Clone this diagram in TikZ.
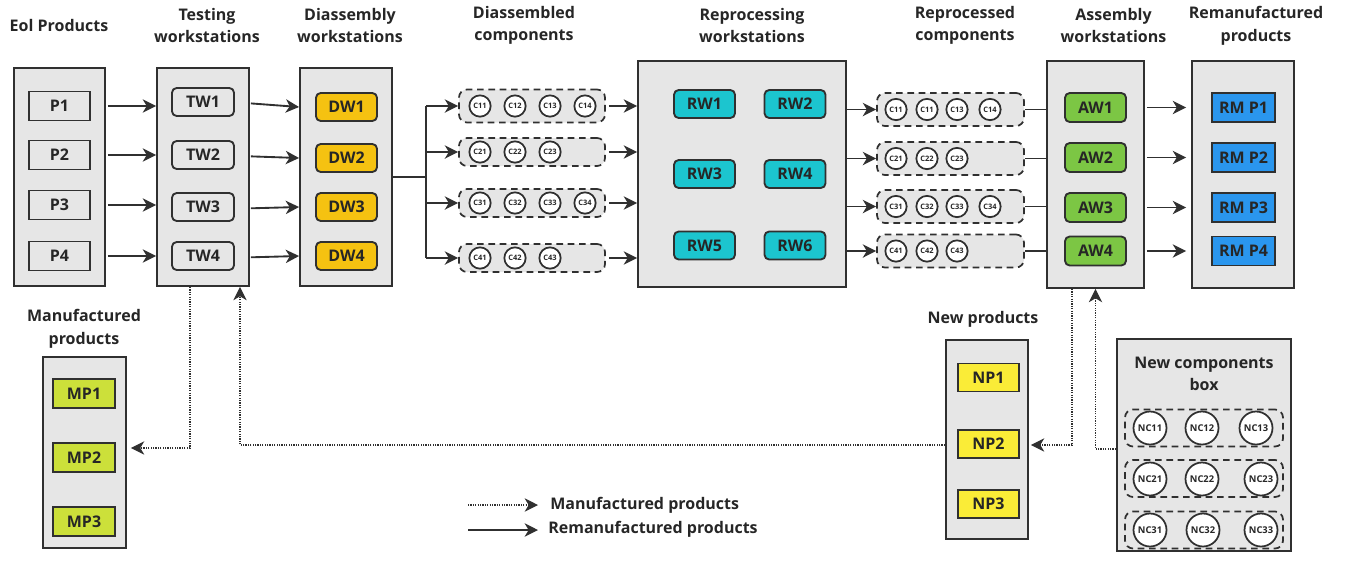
\documentclass[tikz,border=0pt]{standalone}
\usepackage{fontspec}
\setmainfont{Open Sans}
\usetikzlibrary{arrows.meta}

\definecolor{edge}{HTML}{303030}
\definecolor{ink}{HTML}{262626}
\definecolor{panelgray}{HTML}{E6E6E6}
\definecolor{dwyellow}{HTML}{F5C211}
\definecolor{rwcyan}{HTML}{1CC5CF}
\definecolor{awgreen}{HTML}{7CC644}
\definecolor{rmblue}{HTML}{2A96EE}
\definecolor{mplime}{HTML}{CCE03A}
\definecolor{npyellow}{HTML}{FAEC37}

\newcommand\headfont{\fontsize{12}{17}\selectfont\bfseries}
\newcommand\compfont{\fontsize{5.6}{7}\selectfont\bfseries}
\newcommand\ncfont{\fontsize{7}{8}\selectfont\bfseries}

\tikzset{
  px/.style 2 args={minimum width=#1*0.75pt, minimum height=#2*0.75pt},
  heading/.style={font=\headfont, text=ink, align=center, inner sep=0pt},
  panelbox/.style={draw=edge, fill=panelgray, line width=1.4pt, inner sep=0pt},
  itembox/.style={draw=edge, fill=panelgray, line width=1.4pt, inner sep=0pt,
    font=\headfont, text=ink, px={61}{29}},
  wsbox/.style={itembox, rounded corners=3.5pt, px={61}{28}},
  grpbox/.style={draw=edge, fill=panelgray, line width=1.3pt,
    dash pattern=on 5pt off 3.5pt, rounded corners=6pt, inner sep=0pt},
  comp/.style={circle, draw=edge, fill=white, line width=1.3pt, inner sep=0pt,
    minimum size=16pt, font=\compfont, text=ink},
  ncomp/.style={comp, minimum size=24.75pt, font=\ncfont},
  plain/.style={draw=edge, line width=1.4pt},
  arr/.style={plain, -{Stealth[length=10pt,width=10pt,inset=3pt]}},
  dotarr/.style={draw=edge, line width=0.9pt, dash pattern=on 0.9pt off 0.9pt,
    -{Stealth[length=10pt,width=10pt,inset=3pt]}},
}

\begin{document}
\begin{tikzpicture}[x=0.75pt,y=-0.75pt]
\useasboundingbox (0,0) rectangle (1348,561);

% column headings
\node[heading] (hEol) at (59,25) {Eol Products};
\node[heading] (hTest) at (207,25.5) {Testing\\workstations};
\node[heading] (hDis) at (350,25.5) {Diassembly\\workstations};
\node[heading] (hDcomp) at (524,25.5) {Diassembled\\components};
\node[heading] (hRep) at (752,25.5) {Reprocessing\\workstations};
\node[heading] (hRcomp) at (965,25.5) {Reprocessed\\components};
\node[heading] (hAss) at (1113.5,25.5) {Assembly\\workstations};
\node[heading] (hRem) at (1256,25.5) {Remanufactured\\products};
\node[heading] (hMan) at (84,329) {Manufactured\\products};
\node[heading] (hNew) at (983,319) {New products};

% panels
\node[panelbox, px={91}{218}] (eolbox) at (59.5,177) {};
\node[panelbox, px={92}{218}] (twbox) at (203,177) {};
\node[panelbox, px={92}{218}] (dwbox) at (346,177) {};
\node[panelbox, px={208}{226}] (rwbox) at (742,174) {};
\node[panelbox, px={97}{227}] (awbox) at (1095.5,174.5) {};
\node[panelbox, px={102}{227}] (rmbox) at (1243,174.5) {};
\node[panelbox, px={83}{191}] (mpbox) at (84.5,452.5) {};
\node[panelbox, px={82}{199}] (npbox) at (987,439.5) {};
\node[panelbox, px={174}{212}] (ncbox) at (1204,445) {};
\node[heading] (hNc) at (1204,374) {New components\\box};

% products and workstations
\foreach \i/\y in {1/106,2/155,3/205,4/256}
  \node[itembox] (p\i) at (59.5,\y) {P\i};
\foreach \i/\y in {1/102,2/155,3/207,4/256}
  \node[wsbox, px={62}{28}] (tw\i) at (203,\y) {TW\i};
\foreach \i/\y in {1/107,2/158,3/207,4/256}
  \node[wsbox, fill=dwyellow] (dw\i) at (346.5,\y) {DW\i};
\foreach \i/\x/\y in {1/704.5/104,2/795/104,3/704.5/174,4/795/174,5/704.5/245.5,6/795/245.5}
  \node[wsbox, fill=rwcyan] (rw\i) at (\x,\y) {RW\i};
\foreach \i/\y in {1/107.5,2/157.5,3/207.5,4/251}
  \node[wsbox, fill=awgreen, px={61}{29}] (aw\i) at (1095.5,\y) {AW\i};
\foreach \i/\y in {1/107.5,2/157.5,3/207.5,4/251}
  \node[itembox, fill=rmblue, px={63}{29}] (rm\i) at (1243.5,\y) {RM P\i};
\foreach \i/\y in {1/393.5,2/457.5,3/521.5}
  \node[itembox, fill=mplime, px={62}{29}] (mp\i) at (84,\y) {MP\i};
\foreach \i/\y in {1/377.5,2/444,3/504}
  \node[itembox, fill=npyellow, px={61}{28}] (np\i) at (988.5,\y) {NP\i};

% disassembled component groups
\foreach \i/\y/\h in {1/106/33,2/152/28,3/203/28,4/258/28}
  \node[grpbox, px={146}{\h}] (g\i) at (532,\y) {};
\foreach \r/\y/\n in {1/106/4,2/152/3,3/203/4,4/258/3}{
  \foreach \k/\x in {1/480,2/515,3/550,4/585}{
    \ifnum\k>\n\relax\else
      \node[comp] (c\r\k) at (\x,\y) {C\r\k};
    \fi
  }
}

% reprocessed component groups
\foreach \i/\y in {1/109.5,2/158.5,3/206.5,4/251}
  \node[grpbox, px={147}{33}] (rg\i) at (950.5,\y) {};
\foreach \r/\y/\n in {1/109.5/4,2/158.5/3,3/206.5/4,4/251/3}{
  \foreach \k/\x/\lab in {1/896/1,2/927/2,3/957/3,4/990/4}{
    \ifnum\k>\n\relax\else
      \node[comp] (rc\r\k) at (\x,\y) {C\r\ifnum\r\k=12 1\else\lab\fi};
    \fi
  }
}

% new component groups
\foreach \i/\y in {1/428,2/478.5,3/530}
  \node[grpbox, px={158}{37}] (ng\i) at (1204,\y) {};
\foreach \r/\y/\xa/\xb/\xc in {1/428/1150/1202/1256,2/479/1150/1202/1261,3/530/1150/1203/1261}{
  \node[ncomp] (nc\r1) at (\xa,\y) {NC\r1};
  \node[ncomp] (nc\r2) at (\xb,\y) {NC\r2};
  \node[ncomp] (nc\r3) at (\xc,\y) {NC\r3};
}

% remanufacturing flow
\foreach \i in {1,...,4}{
  \draw[arr, shorten <=12.75pt] (p\i.east) -- (p\i.east -| twbox.west);
  \draw[arr, shorten <=0.75pt] ([yshift=-1pt]twbox.east |- tw\i) -- (dwbox.west |- dw\i);
}
\coordinate (bus) at (426,177);
\draw[plain] (dwbox.east) -- (bus);
\draw[plain] (bus |- g1) -- (bus |- g4);
\foreach \i in {1,...,4}{
  \draw[arr] (bus |- g\i) -- (g\i.west);
  \draw[arr, shorten <=2.25pt] (g\i.east) -- (g\i -| rwbox.west);
  \draw[arr] (rwbox.east |- rg\i) -- (rg\i.west);
  \draw[plain] (rg\i.east) -- (rg\i -| awbox.west);
  \draw[arr, shorten <=1.5pt, shorten >=3.75pt] (awbox.east |- aw\i) -- (rmbox.west |- aw\i);
}

% manufacturing flow
\draw[dotarr, shorten >=3pt] ([xshift=-9.75pt]twbox.south) |- ([yshift=3.4pt]mpbox.east);
\draw[dotarr] ([yshift=-4.1pt]npbox.west) -| ([xshift=27.75pt]twbox.south);
\draw[dotarr, shorten >=1.5pt] ([xshift=-17.6pt]awbox.south) |- ([yshift=-4.1pt]npbox.east);
\draw[dotarr] ([yshift=-3pt]ncbox.west) -| (awbox.south);

% legend
\coordinate (la) at (468,505);
\coordinate (lb) at (538,505);
\coordinate (lc) at (468,530);
\coordinate (ld) at (538,530);
\draw[dotarr] (la) -- (lb);
\draw[arr] (lc) -- (ld);
\node[heading, anchor=west] (lt1) at (550,505) {Manufactured products};
\node[heading, anchor=west] (lt2) at (548,529) {Remanufactured products};
\end{tikzpicture}
\end{document}
